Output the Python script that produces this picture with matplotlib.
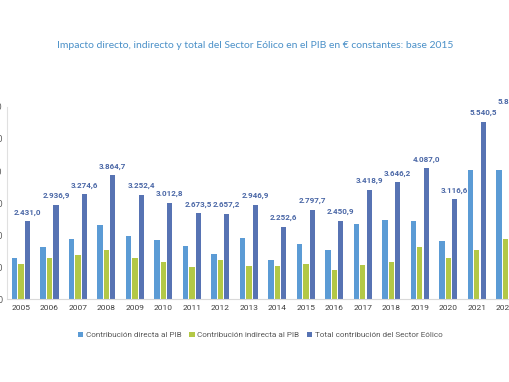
import matplotlib
matplotlib.use("Agg")
import matplotlib.pyplot as plt
import numpy as np

years = [str(y) for y in range(2005, 2023)]
directa = [1295, 1640, 1880, 2320, 1965, 1840, 1652, 1420, 1903, 1213,
           1714, 1526, 2341, 2467, 2445, 1818, 4022, 4020]
indirecta = [1107, 1295, 1380, 1536, 1275, 1170, 1003, 1213, 1025, 1025,
             1087, 920, 1066, 1170, 1630, 1295, 1526, 1880]
total = [2431.0, 2936.9, 3274.6, 3864.7, 3252.4, 3012.8, 2673.5, 2657.2,
         2946.9, 2252.6, 2797.7, 2450.9, 3418.9, 3646.2, 4087.0, 3116.6,
         5540.5, 5890.0]
yticks = [0, 1000, 2000, 3000, 4000, 5000, 6000]

c_dir = "#5b9bd5"
c_ind = "#b3c846"
c_tot = "#5773b3"
c_lab = "#4a67a6"


def fmt_es(v, dec=1):
    s = f"{v:,.{dec}f}"
    return s.replace(",", "X").replace(".", ",").replace("X", ".")


fig = plt.figure(figsize=(5.1, 3.82), dpi=100)
fig.patch.set_facecolor("white")
ax = fig.add_axes([0.0132, 0.217, 1.0055, 0.503])

x = np.arange(len(years))
w = 0.185
off = 0.225
ax.bar(x - off, directa, w, color=c_dir, label="Contribución directa al PIB")
ax.bar(x, indirecta, w, color=c_ind, label="Contribución indirecta al PIB")
ax.bar(x + off, total, w, color=c_tot,
       label="Total contribución del Sector Eólico")

for xi, v in zip(x, total):
    ax.annotate(fmt_es(v), (xi + off, v), xytext=(0, 4), textcoords="offset points",
                ha="center", va="bottom", fontsize=5.8, fontweight="bold",
                color=c_lab, family="Roboto", annotation_clip=False)

ax.set_xlim(-0.5, 17.5)
ax.set_ylim(0, 6000)
ax.set_xticks(x)
ax.set_xticklabels(years, fontsize=6, color="#404040", family="Roboto")
ax.set_yticks(yticks)
ax.set_yticklabels([fmt_es(t, 0) for t in yticks], fontsize=6, color="#595959")
ax.tick_params(axis="both", length=0)
ax.tick_params(axis="x", pad=4)
ax.tick_params(axis="y", pad=3)

for s in ["top", "right"]:
    ax.spines[s].set_visible(False)
ax.spines["left"].set_color("#e0e0e0")
ax.spines["bottom"].set_color("#d9d9d9")
ax.spines["left"].set_linewidth(0.8)
ax.spines["bottom"].set_linewidth(0.8)

fig.text(0.5, 0.882, "Impacto directo, indirecto y total del Sector Eólico en el PIB en € constantes: base 2015",
         ha="center", va="center", fontsize=7.5, color="#4a90c8", family="Lato")

fig.legend(loc="center", bbox_to_anchor=(0.51, 0.123), ncol=3, frameon=False,
           handlelength=0.7, handleheight=0.7, handletextpad=0.3,
           columnspacing=0.9, labelcolor="#595959", prop={"family": "Roboto", "size": 5.9})

fig.savefig("out.png", dpi=100)
